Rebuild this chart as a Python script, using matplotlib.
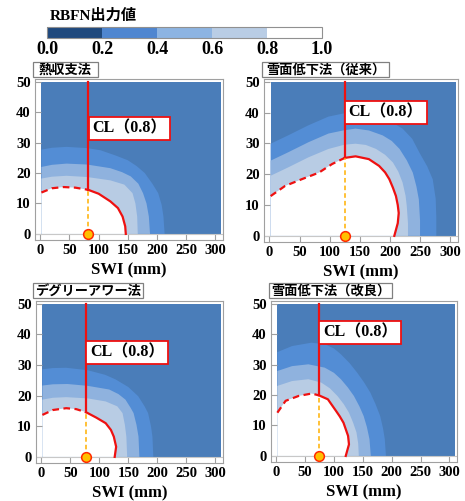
import matplotlib
matplotlib.use('Agg')
import matplotlib.pyplot as plt
from matplotlib.colors import ListedColormap, BoundaryNorm
from matplotlib.colorbar import ColorbarBase
from matplotlib.patches import Rectangle

plt.rcParams['font.family'] = ['Liberation Serif', 'Noto Sans CJK JP']
plt.rcParams['font.weight'] = 'bold'
CJK = ['Noto Sans CJK JP', 'DejaVu Sans']

# --- data ---
methods = ['熱収支法', '雪面低下法（従来）', 'デグリーアワー法', '雪面低下法（改良）']
cl_swi = [82, 125, 77, 74]          # CL crossing point on SWI axis
cl_rain = [14.5, 25.3, 14.6, 19.9]  # rain value where CL turns vertical

cbar_bounds = [0.0, 0.2, 0.4, 0.6, 0.8, 1.0]
cbar_colors = ['#1f497d', '#4f86d0', '#8db4e2', '#b9cde5', '#ffffff']
field_colors = ['#4a7db9', '#538dd5', '#8fb2de', '#b8cce4', '#ffffff']

swi_range = (2, 310)
rain_max = 50

# contour boundaries (SWI, rain) for levels 0.2 / 0.4 / 0.6 / 0.8
heat_02 = [(2, 27.7), (20, 28.3), (45, 28.6), (80, 28.2), (103, 27.5), (130, 25.7), (150, 24.2),
           (165, 22.3), (179, 20.0), (192, 16.5), (202, 13.4), (208, 9.5), (211, 5.7), (213, 0)]
heat_04 = [(2, 22.0), (20, 22.7), (45, 23.1), (80, 22.8), (120, 21.6), (140, 20.3), (155, 18.9),
           (168, 16.5), (176, 13.4), (182, 10.0), (186, 5.7), (188, 0)]
heat_06 = [(2, 18.2), (20, 18.8), (45, 19.1), (80, 18.7), (120, 17.6), (144, 16.2), (158, 13.4),
           (163, 10.0), (166, 5.7), (167, 0)]
heat_08 = [(2, 13.6), (20, 15.0), (40, 15.4), (60, 15.2), (82, 14.5), (100, 13.2), (120, 10.7),
           (133, 8.5), (141, 5.7), (145.5, 2.5), (146.5, 0)]

old_02 = [(2, 29.9), (31, 32.6), (65, 35.9), (98, 38.7), (125, 39.8), (145, 40.0), (170, 39.3),
          (200, 37.2), (221, 34.8), (237, 31.5), (249, 27.0), (262, 22.5), (271, 18.4), (276, 12),
          (277, 6), (277, 0)]
old_04 = [(2, 24.4), (31, 27.1), (65, 30.4), (98, 33.2), (125, 34.3), (143, 34.8), (165, 34.2),
          (188, 32.6), (203, 30.8), (216, 28.2), (228, 24.5), (238, 20.5), (244, 16), (248, 11.8),
          (250, 5), (250, 0)]
old_06 = [(2, 19.5), (31, 22.2), (65, 25.5), (98, 28.2), (125, 29.6), (143, 29.9), (160, 29.5),
          (177, 28.2), (192, 26.3), (205, 23.8), (214, 20.8), (221, 17.3), (226, 13), (228, 9.6),
          (230, 4), (230, 0)]
old_08 = [(2, 12.9), (26, 16.2), (54, 18.4), (82, 20.5), (104, 23.3), (125, 25.3), (143, 25.8),
          (165, 24.9), (182, 22.7), (192, 20.6), (199, 18.4), (205, 15.6), (210, 12.9), (213, 10),
          (214.6, 7.4), (213, 4.1), (207.3, 0)]

deg_02 = [(2, 28.6), (20, 29.0), (43, 29.1), (80, 28.3), (110, 26.8), (128, 25.3), (150, 22.8),
          (167, 19.8), (178, 16.5), (184, 14.3), (189, 10.0), (191.5, 6.6), (193, 0)]
deg_04 = [(2, 23.3), (20, 23.7), (45, 23.8), (80, 23.2), (117, 22.0), (133, 20.5), (145, 18.7),
          (154, 16.0), (159, 14.3), (164, 10.5), (167.5, 6.6), (169, 0)]
deg_06 = [(2, 18.7), (20, 19.3), (43, 19.5), (80, 19.1), (111, 18.1), (131, 16.5), (140, 14.3),
          (144, 10.5), (146.6, 6.6), (148, 0)]
deg_08 = [(2, 13.7), (20, 15.3), (43, 15.9), (60, 15.6), (77, 14.6), (95, 12.8), (111, 11.0),
          (120, 8.8), (125, 6.6), (129, 3.3), (126.5, 0)]

new_02 = [(2, 34.1), (27.5, 36.1), (61, 37.2), (84, 36.7), (100, 35.3), (112, 33.4), (127, 30.5),
          (140, 27.4), (152, 24.2), (163, 20.8), (172, 17), (180, 13.1), (185, 9), (188, 5.5), (190, 0)]
new_04 = [(2, 27.9), (27.5, 29.5), (55.7, 30.1), (84, 29.0), (100, 27.3), (112, 25.2), (124, 22.5),
          (134.5, 19.7), (144, 16.3), (151.4, 13.1), (157, 9.5), (161.5, 5.5), (163.8, 0)]
new_06 = [(2, 23.0), (27.5, 24.6), (55.7, 25.2), (78, 24.1), (93, 22.2), (106, 19.7), (117, 17),
          (126, 14.2), (133, 11), (139, 7.7), (142, 4), (143, 0)]
new_08 = [(2, 14.2), (16.3, 18.1), (38.8, 19.7), (61.3, 20.5), (74, 19.9), (89.5, 18.6), (103.5, 14.8),
          (110, 13.0), (116.5, 10.9), (124.4, 6.6), (126, 3.8), (120.4, 0)]

contours = [
    [heat_02, heat_04, heat_06, heat_08],
    [old_02, old_04, old_06, old_08],
    [deg_02, deg_04, deg_06, deg_08],
    [new_02, new_04, new_06, new_08],
]

# --- layout (pixels) ---
W, H = 465, 501
axes_px = [(35, 79, 223, 240), (264, 79, 458, 242), (36, 301, 223, 463), (271, 301, 457, 462)]
title_px = [(33, 62, 98, 77), (262, 62, 389, 77), (33, 283, 143, 298), (269, 283, 392, 298)]
label_rain = [34.7, 39.9, 34.0, 40.6]


def px_rect(l, t, r, b):
    return [l / W, 1 - b / H, (r - l) / W, (b - t) / H]


fig = plt.figure(figsize=(W / 100, H / 100), dpi=100)

for k in range(4):
    ax = fig.add_axes(px_rect(*axes_px[k]))
    ax.set_xlim(-9, 313)
    ax.set_ylim(-2, 50.9)

    ax.fill_between(swi_range, 0, rain_max, color=field_colors[0], lw=0)
    for lev, pts in enumerate(contours[k]):
        xs = [swi_range[0]] + [p[0] for p in pts]
        ys = [0] + [p[1] for p in pts]
        ax.fill(xs, ys, color=field_colors[lev + 1], lw=0)
    ax.axhline(0, color='#c8c8c8', lw=0.8)

    # 0.8 contour: dashed left of CL, solid right of it
    c08 = contours[k][3]
    i = [p[0] for p in c08].index(cl_swi[k])
    ax.plot([p[0] for p in c08[:i + 1]], [p[1] for p in c08[:i + 1]],
            color='#ee1111', lw=1.6, dashes=(3, 2))
    ax.plot([p[0] for p in c08[i:]], [p[1] for p in c08[i:]], color='#ee1111', lw=1.6)

    ax.plot([cl_swi[k], cl_swi[k]], [cl_rain[k], rain_max], color='#ee1111', lw=1.6)
    ax.plot([cl_swi[k], cl_swi[k]], [0, cl_rain[k]], color='#ffb000', lw=1.1, dashes=(3, 2))
    ax.plot(cl_swi[k], 0, 'o', ms=7, mfc='#ffc000', mec='#ff2a00', mew=1.1,
            clip_on=False, zorder=10)

    ax.annotate('CL（0.8）', xy=(cl_swi[k], label_rain[k]), xytext=(4, 0),
                textcoords='offset pixels', ha='left', va='center', fontsize=11.5,
                fontweight='bold',
                bbox=dict(boxstyle='square,pad=0.22', fc='white', ec='#ee1111', lw=1.3))

    ax.set_xticks(range(0, 301, 50))
    ax.set_yticks(range(0, 51, 10))
    ax.tick_params(direction='in', length=4, color='#a0a0a0', width=0.8, pad=3, labelsize=10.5)
    for s in ax.spines.values():
        s.set_color('#a0a0a0')
        s.set_linewidth(0.8)
    ax.set_xlabel('SWI (mm)', fontsize=12, fontweight='bold', labelpad=4)

    l, t, r, b = title_px[k]
    fig.add_artist(Rectangle((l / W, 1 - b / H), (r - l) / W, (b - t) / H,
                             transform=fig.transFigure, fc='white', ec='#808080', lw=0.9))
    fig.text((l + r) / 2 / W, 1 - (t + b) / 2 / H, methods[k], ha='center', va='center',
             fontsize=9.5, fontweight='bold', family=CJK)

# colour bar
cax = fig.add_axes(px_rect(47, 27, 322, 38))
cb = ColorbarBase(cax, cmap=ListedColormap(cbar_colors), norm=BoundaryNorm(cbar_bounds, 5),
                  orientation='horizontal', ticks=cbar_bounds)
cb.set_ticklabels(['%.1f' % v for v in cbar_bounds])
cb.outline.set_edgecolor('#909090')
cax.tick_params(length=0, pad=2, labelsize=13)
fig.text(50 / W, 1 - 16 / H, 'RBFN出力値', ha='left', va='center', fontsize=11,
         fontweight='bold')

fig.savefig('out.png', dpi=100)
